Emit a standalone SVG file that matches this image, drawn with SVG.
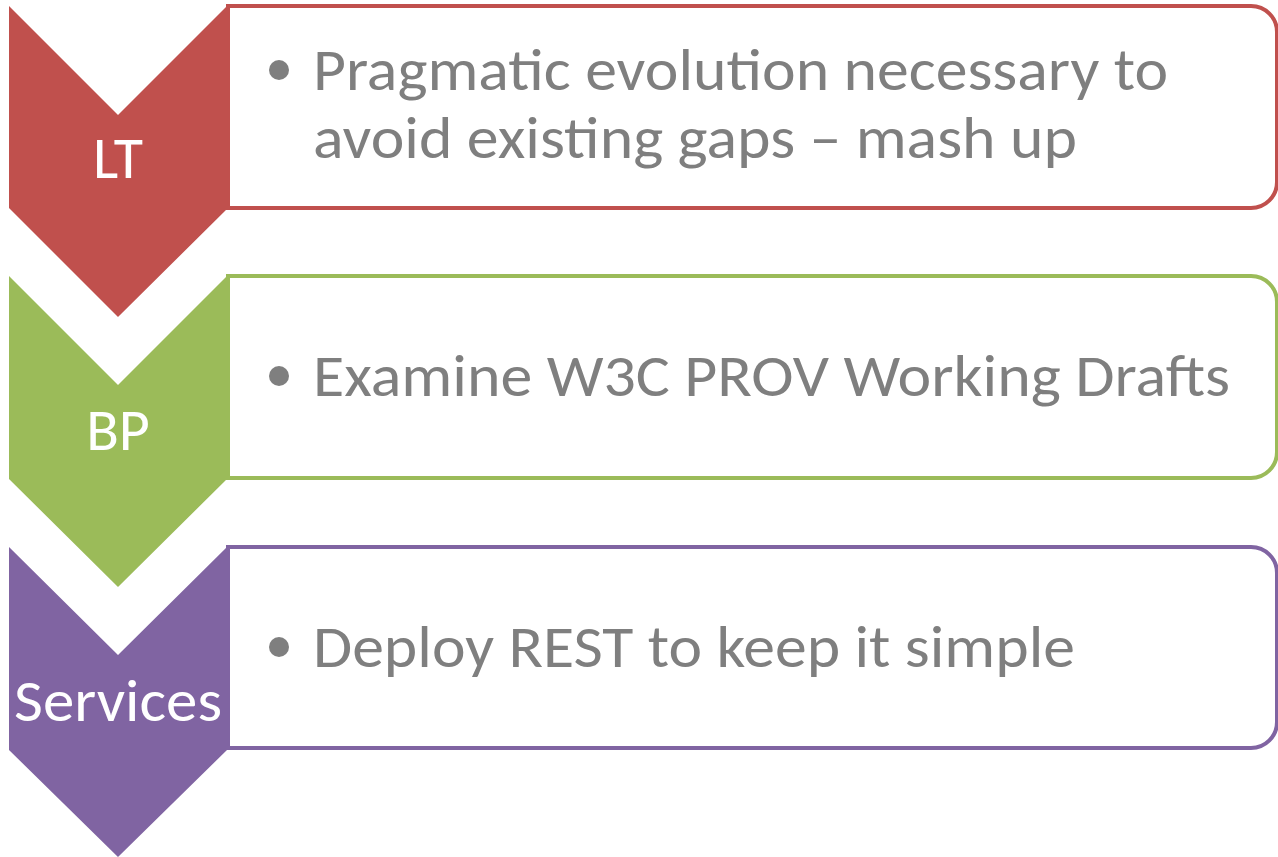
<svg xmlns="http://www.w3.org/2000/svg" width="1278" height="857" viewBox="0 0 1278 857">
<style>
.lbl{font-family:Carlito,"Open Sans","Liberation Sans",sans-serif;font-size:60px;fill:#FFFFFF;text-anchor:middle}
.txt{font-family:Carlito,"Open Sans","Liberation Sans",sans-serif;font-size:60px;fill:#7F7F7F}
.box{fill:#FFFFFF;stroke-width:4}
.dot{fill:#7F7F7F}
</style>
<rect width="1278" height="857" fill="#FFFFFF"/>
<g id="node-lt">
<polygon points="9,6 118,115 227,6 227,209 118,317 9,208" fill="#C0504D"/>
<text class="lbl" x="118" y="178">LT</text>
<path class="box" stroke="#C0504D" d="M228,6 H1251 A26,26 0 0 1 1277,32 V182 A26,26 0 0 1 1251,208 H228 Z"/>
<circle class="dot" cx="279" cy="70" r="10"/>
<text class="txt" x="313" y="90" textLength="855" lengthAdjust="spacingAndGlyphs">Pragmatic evolution necessary to</text>
<text class="txt" x="313" y="158" textLength="764" lengthAdjust="spacingAndGlyphs">avoid existing gaps – mash up</text>
</g>
<g id="node-bp">
<polygon points="9,276 118,385 227,276 227,479 118,587 9,479" fill="#9BBB59"/>
<text class="lbl" x="118" y="450">BP</text>
<path class="box" stroke="#9BBB59" d="M228,276 H1251 A26,26 0 0 1 1277,302 V452 A26,26 0 0 1 1251,478 H228 Z"/>
<circle class="dot" cx="279" cy="376" r="10"/>
<text class="txt" x="313" y="396" textLength="917" lengthAdjust="spacingAndGlyphs">Examine W3C PROV Working Drafts</text>
</g>
<g id="node-services">
<polygon points="9,547 118,655 227,547 227,750 118,857 9,750" fill="#8064A2"/>
<text class="lbl" x="118" y="721" textLength="208" lengthAdjust="spacingAndGlyphs">Services</text>
<path class="box" stroke="#8064A2" d="M228,547 H1251 A26,26 0 0 1 1277,573 V722 A26,26 0 0 1 1251,748 H228 Z"/>
<circle class="dot" cx="279" cy="647" r="10"/>
<text class="txt" x="313" y="667" textLength="762" lengthAdjust="spacingAndGlyphs">Deploy REST to keep it simple</text>
</g>
<g id="connectors"></g>
</svg>
